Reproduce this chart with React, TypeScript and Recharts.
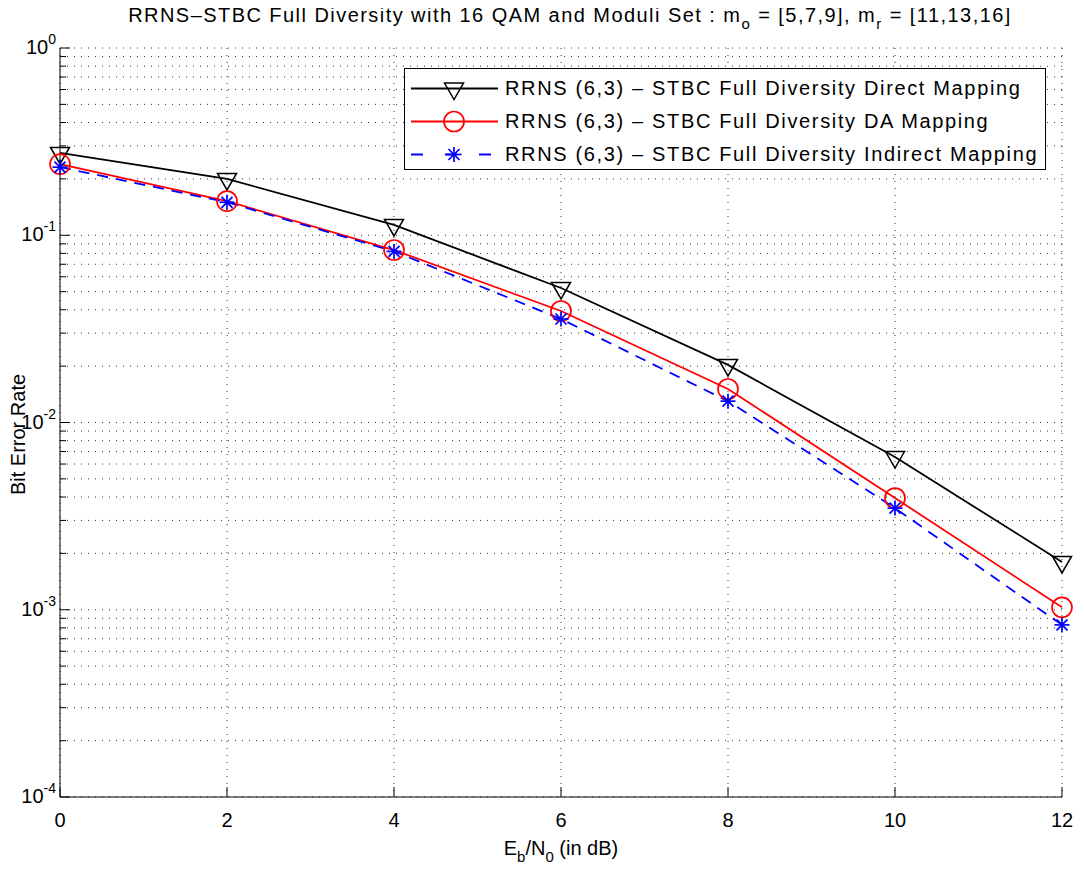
import { CartesianGrid, Legend, Line, LineChart, XAxis, YAxis } from 'recharts';

const FONT = '"Liberation Sans", Arial, Helvetica, sans-serif';

// Eb/N0 (dB)
const ebn0 = [0, 2, 4, 6, 8, 10, 12];
// bit error rate
const berDirect = [0.275, 0.2, 0.1135, 0.0523, 0.0203, 0.00654, 0.0018];
const berDA = [0.24, 0.152, 0.0834, 0.0394, 0.0151, 0.00395, 0.00103];
const berIndirect = [0.231, 0.15, 0.082, 0.0357, 0.013, 0.00349, 0.00083];

const xTicks = [0, 2, 4, 6, 8, 10, 12];
const decadeExps = [-4, -3, -2, -1, 0];
const minorSteps = [1, 2, 3, 4, 5, 6, 7, 8, 9];

const labels = [
  'RRNS (6,3) – STBC Full Diversity Direct Mapping',
  'RRNS (6,3) – STBC Full Diversity DA Mapping',
  'RRNS (6,3) – STBC Full Diversity Indirect Mapping',
];

const data = ebn0.map((x, i) => ({
  x,
  direct: berDirect[i],
  da: berDA[i],
  indirect: berIndirect[i],
}));

const yTicks: number[] = [];
decadeExps.forEach((e) => {
  if (e === 0) {
    yTicks.push(1);
    return;
  }
  minorSteps.forEach((m) => yTicks.push(m * Math.pow(10, e)));
});

const isDecade = (v: number) => {
  const l = Math.log10(v);
  return Math.abs(l - Math.round(l)) < 1e-9;
};

// markers
const triangle = (cx: number, cy: number, color: string, key?: any) => (
  <path
    key={key}
    d={`M${cx - 9.5},${cy - 5.5} L${cx + 9.5},${cy - 5.5} L${cx},${cy + 11} Z`}
    fill="none"
    stroke={color}
    strokeWidth={1.5}
  />
);
const circle = (cx: number, cy: number, color: string, key?: any) => (
  <circle key={key} cx={cx} cy={cy} r={10} fill="none" stroke={color} strokeWidth={1.7} />
);
const star = (cx: number, cy: number, color: string, key?: any) => {
  const r = 7.5;
  const d = 5.5;
  return (
    <g key={key} stroke={color} strokeWidth={1.7}>
      <line x1={cx - r} y1={cy} x2={cx + r} y2={cy} />
      <line x1={cx} y1={cy - r} x2={cx} y2={cy + r} />
      <line x1={cx - d} y1={cy - d} x2={cx + d} y2={cy + d} />
      <line x1={cx - d} y1={cy + d} x2={cx + d} y2={cy - d} />
    </g>
  );
};

const series = [
  { key: 'direct', color: '#000000', dash: undefined, marker: triangle },
  { key: 'da', color: '#ff0000', dash: undefined, marker: circle },
  { key: 'indirect', color: '#0000ff', dash: '11 8', marker: star },
];

const BottomTick = (props: any) => {
  const { x, y, payload } = props;
  return (
    <g>
      <line x1={x} y1={y} x2={x} y2={y - 10} stroke="#000" />
      <text x={x} y={y + 30} textAnchor="middle" fontSize={20} fontFamily={FONT} fill="#000">
        {payload.value}
      </text>
    </g>
  );
};

const TopTick = (props: any) => {
  const { x, y } = props;
  return <line x1={x} y1={y} x2={x} y2={y + 10} stroke="#000" />;
};

const LeftTick = (props: any) => {
  const { x, y, payload } = props;
  const major = isDecade(payload.value);
  const exp = Math.round(Math.log10(payload.value));
  return (
    <g>
      <line x1={x} y1={y} x2={x + (major ? 10 : 6)} y2={y} stroke="#000" />
      {major && (
        <text x={x - 4} y={y + 6} textAnchor="end" fontSize={20} fontFamily={FONT} fill="#000">
          10
          <tspan dy={-10} fontSize={14}>
            {exp}
          </tspan>
        </text>
      )}
    </g>
  );
};

const RightTick = (props: any) => {
  const { x, y, payload } = props;
  const major = isDecade(payload.value);
  return <line x1={x} y1={y} x2={x - (major ? 10 : 6)} y2={y} stroke="#000" />;
};

const XLabel = (props: any) => {
  const { viewBox } = props;
  const cx = viewBox.x + viewBox.width / 2;
  return (
    <text x={cx} y={viewBox.y + 58} textAnchor="middle" fontSize={20} fontFamily={FONT} fill="#000">
      E<tspan dy={7} fontSize={15}>b</tspan>
      <tspan dy={-7}>/N</tspan>
      <tspan dy={7} fontSize={15}>0</tspan>
      <tspan dy={-7}> (in dB)</tspan>
    </text>
  );
};

const YLabel = (props: any) => {
  const { viewBox } = props;
  const cx = 17;
  const cy = viewBox.y + viewBox.height / 2 + 12;
  return (
    <text
      x={cx}
      y={cy}
      transform={`rotate(-90 ${cx} ${cy})`}
      textAnchor="middle"
      fontSize={20}
      fontFamily={FONT}
      fill="#000"
    >
      Bit Error Rate
    </text>
  );
};

const LegendBox = () => (
  <div
    style={{
      width: 640,
      height: 100,
      border: '1px solid #000',
      background: '#fff',
      fontFamily: FONT,
      fontSize: 20,
      letterSpacing: 1.65,
      color: '#000',
      boxSizing: 'content-box',
    }}
  >
    {series.map((s, i) => (
      <div key={s.key} style={{ display: 'flex', alignItems: 'center', height: 33, marginTop: i === 0 ? 3 : 0 }}>
        <svg width={100} height={33} style={{ flex: 'none' }}>
          <line
            x1={6}
            y1={16.5}
            x2={93}
            y2={16.5}
            stroke={s.color}
            strokeWidth={1.8}
            strokeDasharray={s.dash ? '12 22' : undefined}
          />
          {s.marker(49, 16.5, s.color)}
        </svg>
        <span style={{ whiteSpace: 'nowrap' }}>{labels[i]}</span>
      </div>
    ))}
  </div>
);

export default function App() {
  return (
    <div style={{ position: 'relative', width: 1076, height: 856, fontFamily: FONT }}>
      <LineChart
        width={1076}
        height={856}
        data={data}
        margin={{ top: 40, right: 22, bottom: 0, left: 0 }}
        style={{ position: 'absolute', left: 0, top: 0 }}
      >
        <CartesianGrid stroke="#333" strokeDasharray="1 6" strokeWidth={1} />
        <XAxis
          dataKey="x"
          type="number"
          domain={[0, 12]}
          ticks={xTicks}
          interval={0}
          height={67}
          tickSize={0}
          tickMargin={0}
          tickLine={false}
          axisLine={{ stroke: '#000' }}
          tick={<BottomTick />}
          label={<XLabel />}
        />
        <XAxis
          xAxisId="top"
          orientation="top"
          dataKey="x"
          type="number"
          domain={[0, 12]}
          ticks={xTicks}
          interval={0}
          height={0}
          tickSize={0}
          tickMargin={0}
          tickLine={false}
          axisLine={{ stroke: '#000' }}
          tick={<TopTick />}
        />
        <YAxis
          type="number"
          scale="log"
          domain={[1e-4, 1]}
          allowDataOverflow
          ticks={yTicks}
          interval={0}
          width={52}
          tickSize={0}
          tickMargin={0}
          tickLine={false}
          axisLine={{ stroke: '#000' }}
          tick={<LeftTick />}
          label={<YLabel />}
        />
        <YAxis
          yAxisId="right"
          orientation="right"
          type="number"
          scale="log"
          domain={[1e-4, 1]}
          allowDataOverflow
          ticks={yTicks}
          interval={0}
          width={0}
          tickSize={0}
          tickMargin={0}
          tickLine={false}
          axisLine={{ stroke: '#000' }}
          tick={<RightTick />}
        />
        {series.map((s) => (
          <Line
            key={s.key}
            dataKey={s.key}
            type="linear"
            stroke={s.color}
            strokeWidth={1.8}
            strokeDasharray={s.dash}
            isAnimationActive={false}
            dot={(p: any) => s.marker(p.cx, p.cy, s.color, `${s.key}-${p.index}`)}
            activeDot={false}
          />
        ))}
        <Legend
          layout="horizontal"
          verticalAlign="middle"
          align="center"
          wrapperStyle={{ position: 'absolute', left: 396, top: 60, width: 642, height: 102 }}
          content={() => <LegendBox />}
        />
      </LineChart>
      <svg width={1076} height={36} style={{ position: 'absolute', left: 0, top: 0, overflow: 'visible' }}>
        <text x={562} y={14} textAnchor="middle" fontSize={20} fontFamily={FONT} letterSpacing={1.45} fill="#000">
          RRNS–STBC Full Diversity with 16 QAM and Moduli Set : m
          <tspan dy={7} fontSize={15}>o</tspan>
          <tspan dy={-7}> = [5,7,9], m</tspan>
          <tspan dy={7} fontSize={15}>r</tspan>
          <tspan dy={-7}> = [11,13,16]</tspan>
        </text>
      </svg>
    </div>
  );
}
